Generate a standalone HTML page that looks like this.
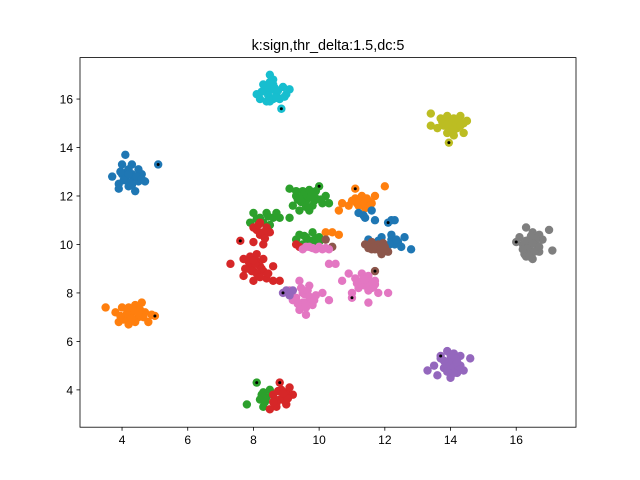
<!DOCTYPE html>
<html><head><meta charset="utf-8"><style>
body{margin:0;background:#fff;}
svg{display:block;font-family:"Liberation Sans","DejaVu Sans",sans-serif;}
</style></head><body>
<svg id="chart" width="640" height="480" viewBox="0 0 640 480">
<rect width="640" height="480" fill="#fff"/>
<text x="328" y="50" font-size="14.4" text-anchor="middle">k:sign,thr_delta:1.5,dc:5</text>
<g id="marks"></g>
<g id="centers"></g>
<rect x="80" y="57.6" width="496" height="369.6" fill="none" stroke="#000" stroke-width="0.8"/>
<g id="axes"></g>
</svg>
<script>
const xTicks=[4,6,8,10,12,14,16];
const yTicks=[4,6,8,10,12,14,16];
const colors=["#1f77b4","#ff7f0e","#2ca02c","#d62728","#9467bd","#8c564b","#e377c2","#7f7f7f","#bcbd22","#17becf"];
const clusterColor=[0,1,9,8,7,4,2,3,2,2,3,3,2,3,1,5,6,1,0,5,6,6,4];
const clusterX=[
[4.1,4.0,4.3,3.7,3.9,4.1,4.3,4.5,4.6,4.4,4.2,4.0,4.7,4.5,3.9,4.2,5.1,4.15,4.35,4.25,4.05,4.45,3.95,4.6,4.3,4.2],
[3.5,3.8,3.9,4.1,4.2,4.3,4.4,4.5,4.6,4.7,4.8,4.0,4.4,4.9,5.0,4.05,4.25,4.35,4.55,4.15,4.65,3.95,4.3,4.5,4.2],
[8.5,8.3,8.6,8.9,8.1,8.4,8.7,9.0,8.2,8.5,8.8,9.1,8.6,8.4,8.85,8.55,8.65,8.45,8.75,8.35,8.95,8.6,8.5,8.7,8.25],
[13.4,13.4,13.7,13.9,14.1,14.3,14.4,13.6,13.9,14.2,14.0,14.4,14.1,13.8,14.5,13.95,13.85,14.05,14.25,13.75,14.15,14.0,13.9,14.3,14.1],
[16.3,16.5,16.7,16.1,16.4,16.6,16.2,16.4,16.7,16.3,16.5,17.0,17.1,16.8,16.0,16.35,16.55,16.45,16.25,16.6,16.4,16.3,16.5,16.7,16.2],
[13.3,13.5,13.7,13.9,14.1,14.0,14.3,14.2,14.4,13.8,14.6,14.0,13.6,14.3,13.7,13.95,14.15,14.05,13.85,14.25,14.1,13.9,14.0,13.8,14.2],
[7.8,8.1,8.3,8.2,8.3,8.4,8.5,8.35,8.25],
[8.8,8.6,8.8,9.0,9.2,9.0,8.7,8.5,9.1,8.9,8.65,8.75,8.95,8.85,8.7,9.05,8.6,8.9],
[9.1,9.3,9.5,9.8,10.0,10.2,10.3,9.6,9.2,9.4,9.8,9.9,10.1,9.1,9.7,9.5,9.3,9.45,9.65,9.85,9.55,9.75,9.35,10.05,9.9,9.6,9.4,9.7],
[7.9,8.0,8.2,8.4,8.6,8.7,8.3,8.5,8.8,8.1,8.45],
[8.0,8.2,8.4,8.5,8.2,8.0,7.6,8.3,8.1,8.1,8.3,8.15,8.35],
[7.3,7.7,7.9,8.1,8.3,7.8,8.0,8.3,8.6,7.7,8.0,8.4,8.6,8.2,8.8,7.9,7.85,8.05,8.15,8.25,7.95,8.1,8.45,7.75,8.0,8.2],
[9.3,9.6,9.8,10.0,9.5,9.8,9.4,10.0,9.65,9.55,9.75,9.9],
[9.3,9.4],
[10.2,10.4,10.6],
[10.2,10.4],
[9.5,9.7,9.9,10.1,10.3,10.3,10.5,9.6,9.8,10.0,10.2],
[11.1,12.0,10.6,10.9,11.1,11.3,11.5,11.7,11.2,11.4,11.6,11.0,10.7,11.25,11.45,11.35,11.55,11.15],
[11.2,11.4,11.6,11.7,12.2,12.3,11.9,12.2,12.3,12.5,12.6,12.2,11.5,12.8,12.1,12.4,12.35,12.15,11.8,11.35],
[11.4,11.6,11.8,12.0,12.1,11.7,11.9,11.6,11.7,11.75,11.85,11.65,11.95,11.5],
[10.7,10.9,11.1,11.3,11.5,11.7,11.4,11.6,11.2,11.0,11.8,12.1,11.5,11.0,11.3,11.35,11.55,11.45,11.25,11.65,11.15,11.5,11.4,11.7],
[9.4,9.7,9.5,9.3,9.6,9.9,10.1,10.3,9.8,9.4,9.6,9.1,9.2,9.55,9.65,9.75,9.5,9.45,9.7,9.85,9.6,9.35],
[8.9,9.2,9.1,9.0]
];
const clusterY=[
[13.7,13.3,13.3,12.8,12.5,12.7,12.9,12.6,12.9,12.2,12.4,12.9,12.6,13.1,12.3,13.1,13.3,13.0,12.75,12.55,12.65,12.8,13.0,12.7,12.45,12.9],
[7.4,7.2,6.8,7.0,6.7,7.2,7.5,7.0,7.6,7.2,6.8,7.4,6.8,7.1,7.05,6.9,7.0,7.3,7.3,7.15,7.0,7.05,6.95,7.2,7.4],
[17.0,16.6,16.6,16.5,16.2,16.3,16.2,16.2,16.0,15.9,16.0,16.4,16.8,15.9,15.6,16.4,16.45,16.15,16.35,16.5,16.1,16.0,16.7,16.05,16.3],
[15.4,14.9,15.2,15.3,15.2,15.3,15.0,14.8,14.6,14.8,15.0,14.6,14.5,14.9,15.1,14.2,15.1,15.1,15.1,15.05,14.9,14.75,14.95,14.9,14.7],
[10.7,10.5,10.4,10.3,10.2,10.0,10.0,9.8,9.7,9.5,9.4,10.6,9.75,10.2,10.1,9.9,9.7,10.35,9.6,10.25,9.5,10.15,10.05,9.9,9.8],
[4.8,5.0,5.3,5.6,5.5,5.1,5.0,4.7,4.8,4.9,5.3,4.5,4.6,5.4,5.4,5.2,5.3,4.9,5.05,4.9,4.7,4.75,5.45,5.2,5.15],
[3.4,4.3,3.9,3.6,3.3,3.7,4.0,3.5,3.8],
[4.3,3.8,3.6,3.9,3.8,3.4,3.3,3.2,4.1,3.7,3.6,3.95,3.55,4.0,3.45,3.65,3.5,3.85],
[12.3,12.0,12.2,12.1,12.4,12.0,11.7,11.8,11.6,11.4,11.6,11.9,11.7,11.1,11.4,11.9,12.2,11.75,12.0,11.8,12.1,11.95,11.85,11.85,12.2,11.55,11.9,12.25],
[10.9,11.3,11.1,11.3,11.1,11.3,10.9,10.8,11.1,11.05,11.15],
[10.7,10.9,10.7,10.5,10.4,10.1,10.15,10.0,9.6,10.6,10.5,10.8,10.25],
[9.2,9.4,9.5,9.3,9.4,9.0,8.9,8.9,9.1,8.7,8.5,8.6,8.5,9.1,8.5,9.2,9.3,9.2,8.75,9.0,8.9,8.8,8.8,9.0,9.35,8.65],
[10.2,10.3,10.5,10.3,10.0,10.0,10.4,10.1,10.2,10.35,10.15,10.25],
[10.0,9.9],
[10.5,10.5,10.4],
[10.2,9.9],
[9.8,9.9,9.8,9.8,9.8,9.2,9.2,9.9,9.85,9.9,9.85],
[12.3,12.4,11.4,11.6,11.9,12.0,11.8,12.0,11.6,11.5,11.7,11.8,11.7,11.8,11.9,11.65,11.6,11.7],
[11.3,11.1,11.4,11.0,11.0,11.0,10.3,10.2,10.0,9.9,10.3,10.4,10.2,9.8,10.9,10.1,10.2,10.0,10.15,11.2],
[10.0,10.1,10.0,9.9,9.7,9.8,9.6,9.8,8.9,9.95,9.75,9.9,10.05,9.85],
[8.5,8.8,8.6,8.8,8.7,8.5,8.3,8.2,8.2,8.0,8.0,8.0,7.6,7.8,8.5,8.6,8.45,8.4,8.35,8.25,8.4,8.1,8.55,8.35],
[8.5,8.3,8.0,7.8,7.6,7.9,8.0,7.7,7.5,7.3,7.1,8.1,7.7,7.95,8.1,7.75,7.6,8.2,7.85,7.7,7.4,7.55],
[8.0,8.1,7.9,8.1]
];
const centerX=[5.1,5.0,8.85,13.95,16.0,13.7,8.1,8.8,10.0,7.6,11.1,12.1,11.7,11.0,8.9];
const centerY=[13.3,7.05,15.6,14.2,10.1,5.4,4.3,4.3,12.4,10.15,12.3,10.9,8.9,7.8,8.0];

const L=80,R=576,T=57.6,B=427.2,xMin=2.72,xMax=17.82,yMin=2.46,yMax=17.71;
function sx(v){return L+(v-xMin)/(xMax-xMin)*(R-L);}
function sy(v){return B-(v-yMin)/(yMax-yMin)*(B-T);}
const NS="http://www.w3.org/2000/svg";
const marks=document.getElementById('marks');
for(let c=0;c<clusterX.length;c++){
  for(let i=0;i<clusterX[c].length;i++){
    const el=document.createElementNS(NS,'circle');
    
    
    el.setAttribute('cx',sx(clusterX[c][i]));el.setAttribute('cy',sy(clusterY[c][i]));
    el.setAttribute('r',4.2);el.setAttribute('fill',colors[clusterColor[c]]);
    marks.appendChild(el);
  }
}
const cg=document.getElementById('centers');
for(let i=0;i<centerX.length;i++){
  const el=document.createElementNS(NS,'circle');
  
  
  el.setAttribute('cx',sx(centerX[i]));el.setAttribute('cy',sy(centerY[i]));
  el.setAttribute('r',1.5);el.setAttribute('fill','#000');
  cg.appendChild(el);
}
const ax=document.getElementById('axes');
xTicks.forEach(t=>{
  const l=document.createElementNS(NS,'line');
  
  
  l.setAttribute('x1',sx(t));l.setAttribute('x2',sx(t));l.setAttribute('y1',B);l.setAttribute('y2',B+3.5);l.setAttribute('stroke','#000');l.setAttribute('stroke-width','0.8');
  ax.appendChild(l);
  const tx=document.createElementNS(NS,'text');
  
  
  tx.setAttribute('x',sx(t));tx.setAttribute('y',B+17);tx.setAttribute('font-size','12');tx.setAttribute('text-anchor','middle');
  tx.textContent=t;ax.appendChild(tx);
});
yTicks.forEach(t=>{
  const l=document.createElementNS(NS,'line');
  
  
  l.setAttribute('x1',L-3.5);l.setAttribute('x2',L);l.setAttribute('y1',sy(t));l.setAttribute('y2',sy(t));l.setAttribute('stroke','#000');l.setAttribute('stroke-width','0.8');
  ax.appendChild(l);
  const tx=document.createElementNS(NS,'text');
  
  
  tx.setAttribute('x',L-7);tx.setAttribute('y',sy(t)+4.5);tx.setAttribute('font-size','12');tx.setAttribute('text-anchor','end');
  tx.textContent=t;ax.appendChild(tx);
});
</script>
</body></html>
